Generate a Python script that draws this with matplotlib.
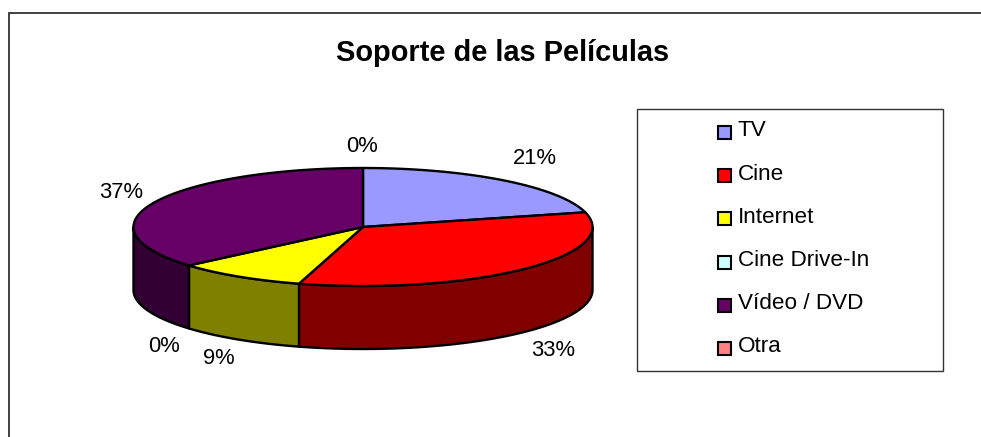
import numpy as np
import matplotlib
matplotlib.use('Agg')
import matplotlib.pyplot as plt
from matplotlib.patches import Rectangle

plt.rcParams['font.family'] = ['Liberation Sans', 'DejaVu Sans']

title = 'Soporte de las Películas'
categories = ['TV', 'Cine', 'Internet', 'Cine Drive-In', 'Vídeo / DVD', 'Otra']
# shares read from the slice edges, the printed labels round a bit differently
shares = [21.0, 33.5, 9.2, 0.0, 36.3, 0.0]
pct_labels = ['21%', '33%', '9%', '0%', '37%', '0%']
colors = ['#9999ff', '#ff0000', '#ffff00', '#ccffff', '#660066', '#ff8080']
wall_colors = ['#4c4c80', '#800000', '#808000', '#668080', '#330033', '#804040']

# pie geometry in pixels
cx, cy = 363, 227
rx, ry = 229.5, 59
depth = 63
label_pos = [(535, 159), (553, 351), (219, 359), (164, 347), (121, 193), (362, 147)]

fig = plt.figure(figsize=(9.81, 4.37), dpi=100)
ax = fig.add_axes([0, 0, 1, 1])
ax.set_xlim(0, 981)
ax.set_ylim(437, 0)
ax.axis('off')


def rim(t):
    return cx + rx * np.sin(t), cy - ry * np.cos(t)


# outer chart frame, cut off at the right and the bottom
ax.plot([9, 9, 981], [437, 13, 13], color='#333333', lw=1.3, solid_joinstyle='miter')

edges = np.radians(np.cumsum([0] + shares) / sum(shares) * 360)

# walls first, only the front half of the rim shows
for i in range(len(shares)):
    t0 = max(edges[i], np.pi / 2)
    t1 = min(edges[i + 1], 3 * np.pi / 2)
    if t1 <= t0:
        continue
    t = np.linspace(t0, t1, 80)
    x, y = rim(t)
    xs = np.concatenate([x, x[::-1]])
    ys = np.concatenate([y, y[::-1] + depth])
    ax.fill(xs, ys, facecolor=wall_colors[i], edgecolor='black', lw=1.7, joinstyle='round')

# top face
for i in range(len(shares)):
    if shares[i] == 0:
        continue
    t = np.linspace(edges[i], edges[i + 1], 120)
    x, y = rim(t)
    xs = np.concatenate([[cx], x])
    ys = np.concatenate([[cy], y])
    ax.fill(xs, ys, facecolor=colors[i], edgecolor='black', lw=1.7, joinstyle='round')

for lab, (px, py) in zip(pct_labels, label_pos):
    ax.text(px, py, lab, fontsize=15.8, ha='center', va='center', color='black')

ax.text(502.5, 53, title, fontsize=20.9, fontweight='bold', ha='center', va='center')

# legend box
ax.add_patch(Rectangle((637, 109), 306, 262, facecolor='white', edgecolor='#333333', lw=1))
for i, name in enumerate(categories):
    ly = 130 + i * 43.2
    ax.add_patch(Rectangle((718, ly - 4), 13, 13, facecolor=colors[i], edgecolor='black', lw=1.5))
    ax.text(738, ly + 1, name, fontsize=16.2, ha='left', va='center', color='black')

fig.savefig('out.png', dpi=100)
